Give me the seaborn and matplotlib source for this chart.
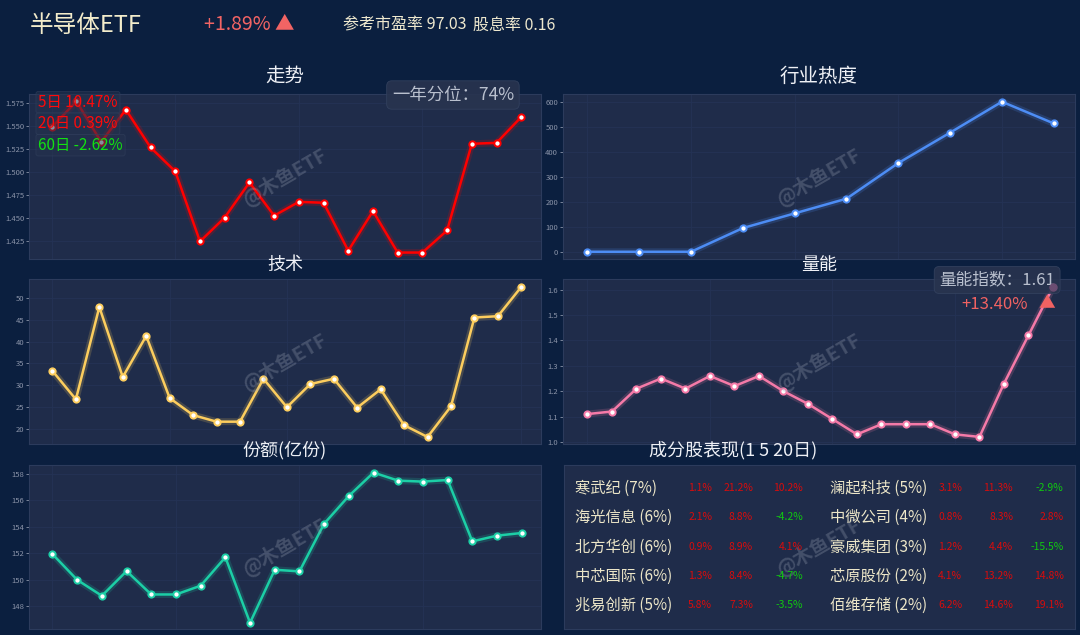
import matplotlib
matplotlib.use("Agg")
import matplotlib.pyplot as plt
import numpy as np
import pandas as pd
import seaborn as sns

# values
trend = [1.549, 1.577, 1.533, 1.568, 1.527, 1.501, 1.425, 1.451, 1.489, 1.453,
         1.468, 1.467, 1.415, 1.458, 1.413, 1.413, 1.437, 1.531, 1.532, 1.560]
heat = [0, 0, 0, 95, 154, 213, 356, 478, 602, 515]
tech = [33.3, 26.8, 47.9, 31.9, 41.3, 27.1, 23.2, 21.7, 21.7, 31.5, 25.0,
        30.3, 31.5, 24.9, 29.1, 20.9, 18.2, 25.2, 45.5, 45.8, 52.5]
volume = [1.11, 1.12, 1.21, 1.25, 1.21, 1.26, 1.22, 1.26, 1.20, 1.15,
          1.09, 1.03, 1.07, 1.07, 1.07, 1.03, 1.02, 1.23, 1.42, 1.61]
shares = [151.94, 150.0, 148.8, 150.66, 148.9, 148.9, 149.56, 151.7, 146.77, 150.76,
          150.64, 154.23, 156.32, 158.08, 157.47, 157.4, 157.52, 152.9, 153.33, 153.53]

trend_ticks = [1.425, 1.450, 1.475, 1.500, 1.525, 1.550, 1.575]
heat_ticks = [0, 100, 200, 300, 400, 500, 600]
tech_ticks = [20, 25, 30, 35, 40, 45, 50]
volume_ticks = [1.0, 1.1, 1.2, 1.3, 1.4, 1.5, 1.6]
shares_ticks = [148, 150, 152, 154, 156, 158]

returns_labels = ['5日 10.47%', '20日 0.39%', '60日 -2.62%']
returns_up = [True, True, False]

names_left = ['寒武纪 (7%)', '海光信息 (6%)', '北方华创 (6%)', '中芯国际 (6%)', '兆易创新 (5%)']
d1_left = [1.1, 2.1, 0.9, 1.3, 5.8]
d5_left = [21.2, 8.8, 8.9, 8.4, 7.3]
d20_left = [10.2, -4.2, 4.1, -4.7, -3.5]
names_right = ['澜起科技 (5%)', '中微公司 (4%)', '豪威集团 (3%)', '芯原股份 (2%)', '佰维存储 (2%)']
d1_right = [3.1, 0.8, 1.2, 4.1, 6.2]
d5_right = [11.3, 8.3, 4.4, 13.2, 14.6]
d20_right = [-2.9, 2.8, -15.5, 14.8, 19.1]

FIG_BG = '#0b1f3f'
AX_BG = '#1f2c4a'
TICK_C = '#8a93a8'
W, H = 1080, 635

sns.set_style("dark")
plt.rcParams['font.family'] = ['Noto Sans CJK SC', 'DejaVu Sans']
plt.rcParams['axes.unicode_minus'] = False

fig = plt.figure(figsize=(W / 100, H / 100), dpi=100, facecolor=FIG_BG)


def box(x0, y0, x1, y1):
    # pixel box (top-left origin) -> figure fraction rect
    return [x0 / W, 1 - y1 / H, (x1 - x0) / W, (y1 - y0) / H]


def ftext(x, y, s, **kw):
    fig.text(x / W, 1 - y / H, s, **kw)


def watermark(ax):
    ax.text(0.5, 0.5, '@木鱼ETF', transform=ax.transAxes, ha='center', va='center',
            rotation=30, fontsize=14, fontweight='bold', color='#9aa2b4', alpha=0.3)


def style_ax(ax, ticks, fmt, ylim, n, left, right):
    ax.set_facecolor(AX_BG)
    for sp in ax.spines.values():
        sp.set_color('#2c3b5c')
        sp.set_linewidth(0.8)
    ax.set_ylim(*ylim)
    ax.set_xlim(-left, n - 1 + right)
    ax.set_yticks(ticks)
    ax.set_yticklabels([fmt.format(t) for t in ticks])
    ax.set_xticks(np.arange(0, n, 5))
    ax.set_xticklabels([])
    ax.tick_params(axis='y', colors=TICK_C, labelsize=5.5, length=2, width=0.6, pad=1.5, left=True)
    ax.tick_params(axis='x', length=0)
    ax.grid(True, color='#243355', linewidth=0.6)
    ax.set_xlabel('')
    ax.set_ylabel('')
    watermark(ax)


def draw(ax, values, color):
    df = pd.DataFrame({'x': np.arange(len(values)), 'y': values})
    sns.lineplot(data=df, x='x', y='y', ax=ax, color=color, linewidth=5, alpha=0.18)
    sns.lineplot(data=df, x='x', y='y', ax=ax, color=color, linewidth=1.8,
                 marker='o', markersize=4.5, markerfacecolor='white',
                 markeredgecolor=color, markeredgewidth=1.4)


# 走势
ax1 = fig.add_axes(box(29, 94, 541, 259))
draw(ax1, trend, '#ff0000')
style_ax(ax1, trend_ticks, '{:.3f}', (1.406, 1.585), len(trend), 0.92, 0.8)
ax1.set_zorder(2)
for i, (lab, up) in enumerate(zip(returns_labels, returns_up)):
    ax1.text(0.018, 0.95 - i * 0.13, lab, transform=ax1.transAxes, ha='left', va='center',
             fontsize=11, color='#ff0a0a' if up else '#12e012',
             bbox=dict(boxstyle='round,pad=0.15', fc='#26334f', ec='#34425f', alpha=0.55, lw=0.6))
ax1.text(0.828, 0.994, '一年分位：74%', transform=ax1.transAxes, ha='center', va='center',
         fontsize=12.5, color='#b9c0ce',
         bbox=dict(boxstyle='round,pad=0.3', fc='#28344f', ec='#34425f', alpha=0.9, lw=0.6))

# 行业热度
ax2 = fig.add_axes(box(563, 94, 1075, 259))
draw(ax2, heat, '#4d8df5')
style_ax(ax2, heat_ticks, '{:.0f}', (-29, 633), len(heat), 0.47, 0.41)
ax2.set_xticks(np.arange(0, len(heat), 2))

# 技术
ax3 = fig.add_axes(box(29, 279, 541, 444))
draw(ax3, tech, '#fccd5e')
style_ax(ax3, tech_ticks, '{:.0f}', (16.6, 54.3), len(tech), 1.0, 0.84)

# 量能
ax4 = fig.add_axes(box(563, 279, 1075, 444))
draw(ax4, volume, '#f57aa8')
style_ax(ax4, volume_ticks, '{:.1f}', (0.992, 1.642), len(volume), 1.0, 0.9)
ax4.set_zorder(2)
ax4.plot([len(volume) - 1], [volume[-1]], marker='o', markersize=5, color='#6b4d72', zorder=5)
ax4.text(0.848, 0.994, '量能指数：1.61', transform=ax4.transAxes, ha='center', va='center',
         fontsize=12, color='#b9c0ce',
         bbox=dict(boxstyle='round,pad=0.3', fc='#28344f', ec='#34425f', alpha=0.9, lw=0.6))
ax4.text(0.908, 0.848, '+13.40%', transform=ax4.transAxes, ha='right', va='center',
         fontsize=12, color='#f06262')
ax4.text(0.945, 0.848, '▲', transform=ax4.transAxes, ha='center', va='center',
         fontsize=12, color='#f06262')

# 份额(亿份)
ax5 = fig.add_axes(box(29, 465, 541, 629))
draw(ax5, shares, '#1ccfa6')
style_ax(ax5, shares_ticks, '{:.0f}', (146.3, 158.65), len(shares), 0.95, 0.78)

# 成分股表现 table
ax6 = fig.add_axes(box(564, 465, 1075, 629))
ax6.set_facecolor(AX_BG)
ax6.set_xticks([])
ax6.set_yticks([])
ax6.set_xlim(0, 1)
ax6.set_ylim(0, 1)
for sp in ax6.spines.values():
    sp.set_color('#2c3b5c')
watermark(ax6)

row_y = [0.86, 0.683, 0.5, 0.323, 0.146]
NAME_C = '#ece6c8'


def pct_color(v):
    return '#d80c0c' if v >= 0 else '#10c810'


for names, d1, d5, d20, xn, xcols in [
        (names_left, d1_left, d5_left, d20_left, 0.0215, [0.29, 0.37, 0.468]),
        (names_right, d1_right, d5_right, d20_right, 0.5205, [0.779, 0.879, 0.978])]:
    for i, y in enumerate(row_y):
        ax6.text(xn, y, names[i], ha='left', va='center', fontsize=11, color=NAME_C)
        for xc, v in zip(xcols, [d1[i], d5[i], d20[i]]):
            ax6.text(xc, y, f'{v:.1f}%', ha='right', va='center', fontsize=7.5, color=pct_color(v))

# panel titles
title_kw = dict(ha='center', va='center', color='#eef0f5')
ftext(285, 76, '走势', fontsize=14, **title_kw)
ftext(819, 76, '行业热度', fontsize=14, **title_kw)
ftext(285, 265, '技术', fontsize=13, **title_kw)
ftext(819, 265, '量能', fontsize=13, **title_kw)
ftext(285, 450, '份额(亿份)', fontsize=13, **title_kw)
ftext(733, 450, '成分股表现(1 5 20日)', fontsize=13, **title_kw)

# header
ftext(30, 25, '半导体ETF', fontsize=17, color='#f3eccb', ha='left', va='center')
ftext(204, 25, '+1.89% ▲', fontsize=14, color='#f26464', ha='left', va='center')
ftext(343, 25, '参考市盈率 97.03', fontsize=11.5, color='#efe9cf', ha='left', va='center')
ftext(473, 25, '股息率 0.16', fontsize=11.5, color='#efe9cf', ha='left', va='center')

fig.savefig('out.png', dpi=100, facecolor=FIG_BG)
